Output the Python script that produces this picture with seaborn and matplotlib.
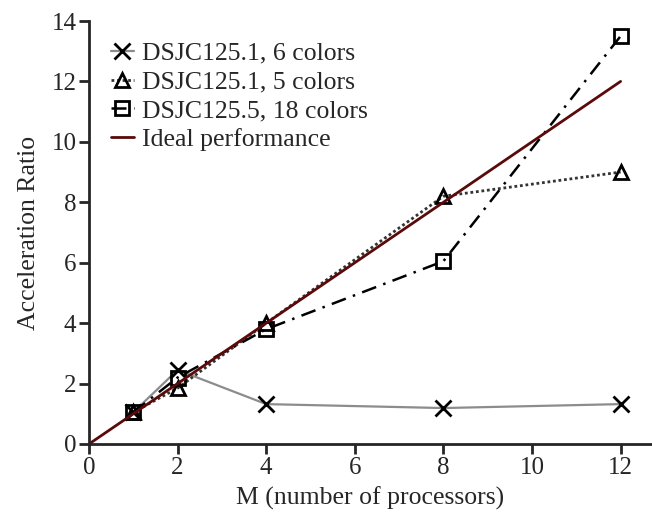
import numpy as np
import pandas as pd
import seaborn as sns
import matplotlib
matplotlib.use("Agg")
import matplotlib.pyplot as plt

# processors and acceleration ratios
m_vals = [1, 2, 4, 8, 12]
ratio_6c = [1.05, 2.45, 1.32, 1.19, 1.32]
ratio_5c = [1.05, 1.85, 4.0, 8.2, 9.0]
ratio_18c = [1.05, 2.2, 3.8, 6.05, 13.5]
ideal_m = [0, 12]

sns.set_style("ticks")
plt.rcParams['font.family'] = ['Liberation Serif', 'DejaVu Serif']

fig = plt.figure(figsize=(6.52, 5.24), dpi=100)
ax = fig.add_axes([89 / 652, 80 / 524, 1 - 89 / 652, (444 - 21) / 524])

sns.lineplot(x=m_vals, y=ratio_6c, ax=ax, color='#8c8c8c', lw=1.6,
             marker='x', markersize=11, markeredgewidth=2, markeredgecolor='black',
             label='DSJC125.1, 6 colors')
sns.lineplot(x=m_vals, y=ratio_5c, ax=ax, color='#333333', lw=2, linestyle=(0, (1, 1)),
             marker='^', markersize=10, markeredgewidth=2, markerfacecolor='none',
             markeredgecolor='black', label='DSJC125.1, 5 colors')
sns.lineplot(x=m_vals, y=ratio_18c, ax=ax, color='black', lw=1.8, linestyle=(0, (6, 3, 1, 3)),
             marker='s', markersize=10, markeredgewidth=2, markerfacecolor='none',
             markeredgecolor='black', label='DSJC125.5, 18 colors')
sns.lineplot(x=ideal_m, y=ideal_m, ax=ax, color='#5a0a0a', lw=2, label='Ideal performance')

ax.set_xlim(0, (652 - 89) / 44.3)
ax.set_ylim(0, 14)
ax.set_xticks([0, 2, 4, 6, 8, 10, 12])
ax.set_yticks([0, 2, 4, 6, 8, 10, 12, 14])
ax.tick_params(labelsize=18, width=2, length=7, pad=2, direction='out')
for s in ['left', 'bottom']:
    ax.spines[s].set_linewidth(2)
sns.despine(ax=ax)

ax.set_xlabel('M (number of processors)', fontsize=18.5, labelpad=6)
ax.set_ylabel('Acceleration Ratio', fontsize=18.5, labelpad=8)

leg = ax.legend(loc='upper left', bbox_to_anchor=(0.007, 0.993), frameon=False, fontsize=18.5,
                handlelength=0.9, handletextpad=0.3, labelspacing=0.22, borderaxespad=0.3)

fig.savefig('out.png', dpi=100)
